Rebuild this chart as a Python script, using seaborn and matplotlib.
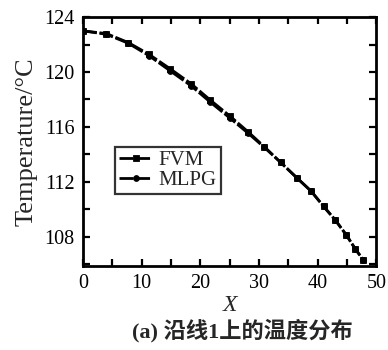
import numpy as np
import pandas as pd
import seaborn as sns
import matplotlib
matplotlib.use("Agg")
import matplotlib.pyplot as plt
from matplotlib.ticker import MultipleLocator

x_vals = [0, 4.0, 7.7, 11.2, 14.8, 18.4, 21.7, 25.0, 28.1, 30.9, 33.7, 36.4, 38.9, 41.0, 43.0, 44.9, 46.4, 47.75]
fvm = [123.0, 122.8, 122.15, 121.3, 120.25, 119.15, 117.95, 116.8, 115.65, 114.55, 113.4, 112.3, 111.3, 110.2, 109.2, 108.1, 107.1, 106.3]
mlpg = [123.0, 122.75, 122.1, 121.2, 120.1, 119.0, 117.8, 116.65, 115.55, 114.5, 113.4, 112.3, 111.3, 110.2, 109.2, 108.1, 107.1, 106.3]
series_names = ["FVM", "MLPG"]

df = pd.DataFrame({
    "X": x_vals + x_vals,
    "T": fvm + mlpg,
    "method": [series_names[0]] * len(x_vals) + [series_names[1]] * len(x_vals),
})

sns.set_theme(style="ticks")
plt.rcParams["font.family"] = ["Liberation Serif", "Noto Sans CJK SC"]

fig = plt.figure(figsize=(3.88, 3.5), dpi=100)
ax = fig.add_axes([0.214, 0.240, 0.756, 0.711])

sns.lineplot(data=df, x="X", y="T", hue="method", style="method",
             palette=["black", "black"], markers={"FVM": "s", "MLPG": "o"},
             dashes={"FVM": (5, 1), "MLPG": (5, 1)}, markersize=4.2,
             markeredgecolor="black", markeredgewidth=0.6,
             linewidth=2.0, ax=ax, legend=True)

ax.set_xlim(0, 50)
ax.set_ylim(105.85, 124)
ax.xaxis.set_major_locator(MultipleLocator(10))
ax.xaxis.set_minor_locator(MultipleLocator(5))
ax.yaxis.set_major_locator(MultipleLocator(4))
ax.yaxis.set_minor_locator(MultipleLocator(2))
ax.tick_params(which="both", direction="in", top=True, right=True, colors="black",
               labelsize=14.5, width=1.6)
ax.tick_params(which="major", length=5, pad=6)
ax.tick_params(which="minor", length=5)
for s in ax.spines.values():
    s.set_linewidth(2.0)
    s.set_color("black")

ax.set_xlabel("X", fontsize=17, style="italic", labelpad=1)
ax.set_ylabel("Temperature/°C", fontsize=19, labelpad=5)

leg = ax.legend(loc="lower left", bbox_to_anchor=(0.108, 0.289), fontsize=15,
                frameon=True, fancybox=False, edgecolor="black", handlelength=1.6,
                handletextpad=0.3, borderpad=0.2, labelspacing=0.0, borderaxespad=0)
leg.get_frame().set_linewidth(1.6)

fig.text(0.625, 0.055, "(a) 沿线1上的温度分布", ha="center", va="center", fontsize=16,
         fontweight="bold")

fig.savefig("out.png", dpi=100)
